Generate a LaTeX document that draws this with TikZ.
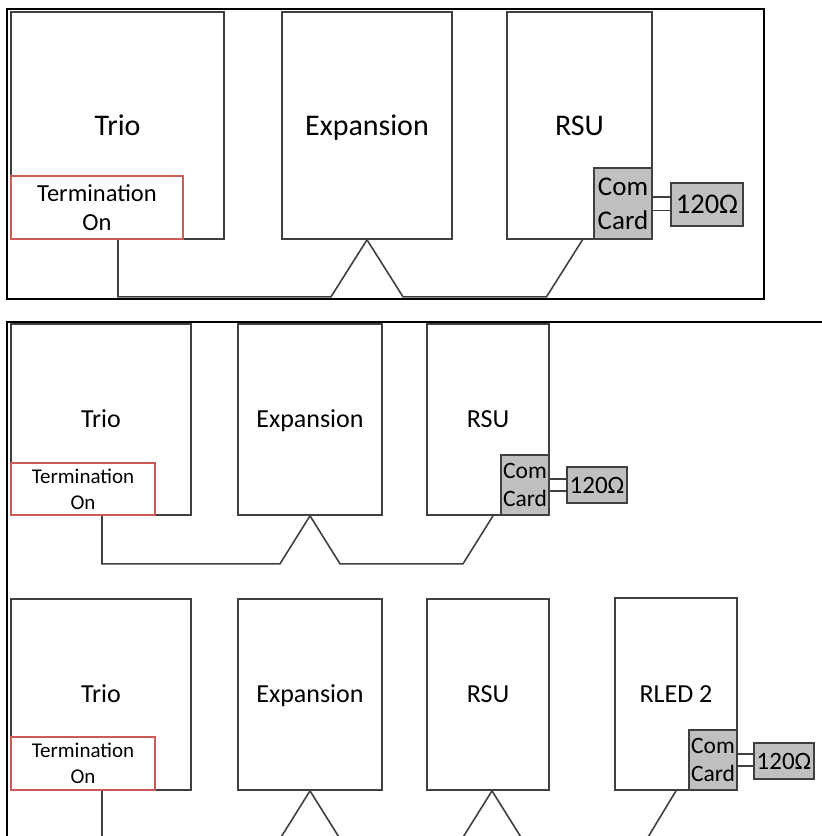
\documentclass[tikz,border=0pt]{standalone}
\usepackage{fontspec}
\setmainfont{Carlito}
\definecolor{termred}{RGB}{205,90,85}
\definecolor{cardgray}{RGB}{192,192,192}

\begin{document}
\begin{tikzpicture}[x=1pt,y=-1pt,
 unit/.style={draw=black!75,line width=1.6pt,fill=white,inner sep=0pt,text depth=0pt},
 term/.style={draw=termred,line width=1.6pt,fill=white,inner sep=0pt,align=center},
 card/.style={draw=black!75,line width=1.6pt,fill=cardgray,inner sep=0pt,align=center},
 bigtxt/.style={font=\fontsize{30}{36}\selectfont,text height=19pt},
 smalltxt/.style={font=\fontsize{26}{31}\selectfont,text height=16.7pt},
 cable/.style={draw=black!75,line width=1.6pt},
 link/.style={draw=black!75,line width=1.5pt,double=white,double distance=12pt},
 frame/.style={draw=black,line width=1.8pt}]
\useasboundingbox (0,0) rectangle (822,836);
\clip (0,0) rectangle (822,836);
% first panel
\draw[frame] (7,9) rectangle (764,299);
\node[unit,bigtxt,minimum width=213pt,minimum height=227pt] (trioA) at (117.5,125.5) {Trio};
\node[unit,bigtxt,minimum width=170pt,minimum height=227pt] (expA) at (367,125.5) {Expansion};
\node[unit,bigtxt,minimum width=145pt,minimum height=227pt] (rsuA) at (579.5,125.5) {RSU};
\node[term,font=\fontsize{24.5}{29}\selectfont,minimum width=172pt,minimum height=63pt] (termA) at (97,207.5) {Termination\\On};
\node[card,font=\fontsize{27}{34}\selectfont,minimum width=58pt,minimum height=71pt] (comA) at (623,203.5) {Com\\Card};
\node[card,font=\fontsize{28.5}{34}\selectfont,minimum width=72pt,minimum height=43pt] (ohmA) at (707,204.5) {120Ω};
\draw[link] (comA.east) -- (comA.east -| ohmA.west);
\draw[cable] ([xshift=21pt]termA.south) |- ([xshift=-36pt,yshift=-57pt]expA.south) -- (expA.south)
  -- ++(36,57) -- ([xshift=-33pt,yshift=-57pt]rsuA.south) -- ([xshift=3pt]rsuA.south);
% second panel
\draw[frame] (7,836) -- (7,322) -- (822,322);
\node[unit,smalltxt,minimum width=180pt,minimum height=191pt] (trioB) at (101,419.5) {Trio};
\node[unit,smalltxt,minimum width=144pt,minimum height=191pt] (expB) at (310,419.5) {Expansion};
\node[unit,smalltxt,minimum width=122pt,minimum height=191pt] (rsuB) at (488,419.5) {RSU};
\node[term,font=\fontsize{21}{26}\selectfont,minimum width=144pt,minimum height=52pt] (termB) at (83,489) {Termination\\On};
\node[card,font=\fontsize{23.5}{28}\selectfont,minimum width=48pt,minimum height=60pt] (comB) at (525,485) {Com\\Card};
\node[card,font=\fontsize{25}{30}\selectfont,minimum width=60pt,minimum height=36pt] (ohmB) at (597,485) {120Ω};
\draw[link,double distance=10.5pt] (comB.east) -- (comB.east -| ohmB.west);
\draw[cable] ([xshift=19pt]termB.south) |- ([xshift=-30pt,yshift=-48pt]expB.south) -- (expB.south)
  -- ++(30,48) -- ([xshift=-25pt,yshift=-48pt]rsuB.south) -- ([xshift=5pt]rsuB.south);
% third row
\node[unit,smalltxt,minimum width=180pt,minimum height=191pt] (trioC) at (101,694.5) {Trio};
\node[unit,smalltxt,minimum width=144pt,minimum height=191pt] (expC) at (310,694.5) {Expansion};
\node[unit,smalltxt,minimum width=122pt,minimum height=191pt] (rsuC) at (488,694.5) {RSU};
\node[unit,smalltxt,minimum width=122pt,minimum height=192pt] (rledC) at (676,694) {RLED 2};
\node[term,font=\fontsize{21}{26}\selectfont,minimum width=144pt,minimum height=53pt] (termC) at (83,763.5) {Termination\\On};
\node[card,font=\fontsize{23.5}{28}\selectfont,minimum width=48pt,minimum height=60pt] (comC) at (713,760) {Com\\Card};
\node[card,font=\fontsize{25}{30}\selectfont,minimum width=60pt,minimum height=36pt] (ohmC) at (784,761) {120Ω};
\draw[link,double distance=10.5pt] (comC.east) -- (comC.east -| ohmC.west);
\draw[cable] ([xshift=19pt]termC.south) |- ([xshift=-30pt,yshift=-48pt]expC.south) -- (expC.south)
  -- ++(30,48) -- ([xshift=-26pt,yshift=-48pt]rsuC.south) -- ([xshift=4pt]rsuC.south)
  -- ++(30,48) -- ([xshift=-29pt,yshift=-48pt]rledC.south) -- (rledC.south);
\end{tikzpicture}
\end{document}
